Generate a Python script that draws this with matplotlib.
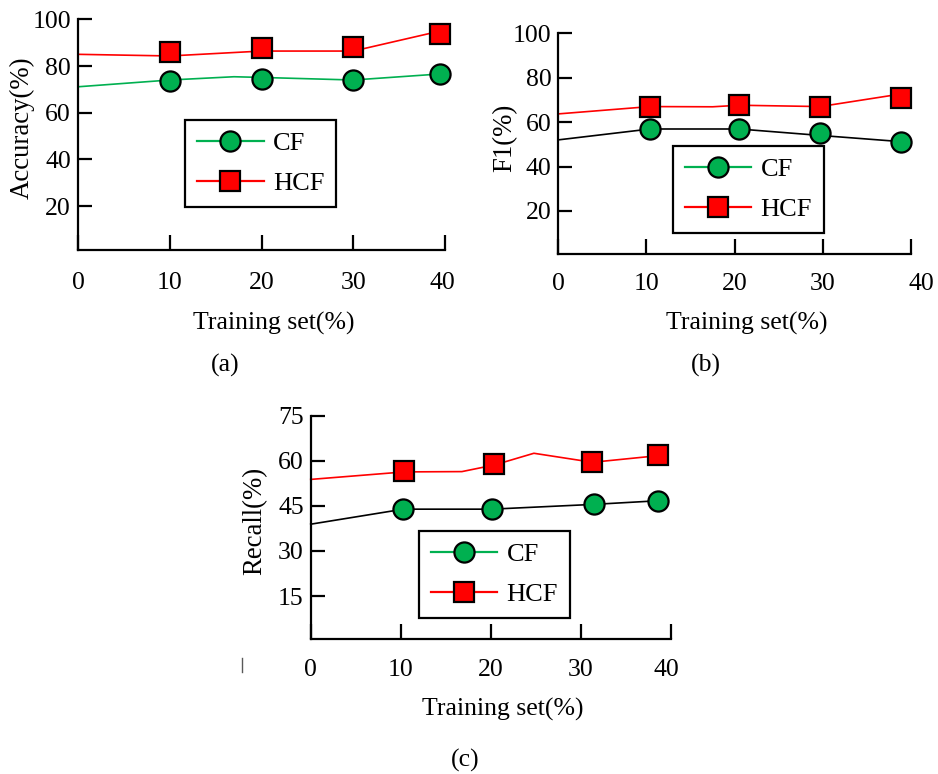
import matplotlib
matplotlib.use("Agg")
import matplotlib.pyplot as plt
from matplotlib.lines import Line2D
from matplotlib.transforms import ScaledTranslation

plt.rcParams['font.family'] = ['Liberation Serif', 'DejaVu Serif']

W, H = 938, 774
GREEN = '#00B050'
RED = '#FF0000'

x_ticks = [0, 10, 20, 30, 40]

# ---------- (a) Accuracy ----------
a_mark_x = [10, 20, 30, 39.5]
a_hcf_mark = [85.9, 87.7, 88.0, 93.6]
a_cf_mark = [73.7, 74.5, 74.0, 76.6]
a_hcf_line_x = [0, 10, 20, 30, 39.5]
a_hcf_line = [85.0, 84.3, 86.4, 86.4, 95.0]
a_cf_line_x = [0, 10, 17, 20, 30, 39.5]
a_cf_line = [71.1, 74.0, 75.4, 75.1, 74.0, 76.6]
a_yticks = [20, 40, 60, 80, 100]

# ---------- (b) F1 ----------
b_mark_x = [10.4, 20.5, 29.7, 38.9]
b_hcf_mark = [67.0, 67.7, 67.0, 71.0]
b_cf_mark = [56.9, 56.9, 55.2, 51.2]
b_hcf_line_x = [0, 10.4, 17.5, 20.5, 29.7, 38.9]
b_hcf_line = [63.7, 67.0, 66.9, 67.6, 67.0, 72.7]
b_cf_line_x = [0, 10.4, 20.5, 29.7, 38.9]
b_cf_line = [52.0, 56.9, 56.9, 54.0, 51.2]
b_yticks = [20, 40, 60, 80, 100]

# ---------- (c) Recall ----------
c_hcf_mark_x = [10.4, 20.4, 31.3, 38.6]
c_hcf_mark = [56.6, 58.8, 59.6, 61.8]
c_cf_mark_x = [10.3, 20.1, 31.5, 38.6]
c_cf_mark = [43.9, 43.9, 45.5, 46.7]
c_hcf_line_x = [0, 10.4, 16.8, 20.4, 24.8, 31.3, 38.6]
c_hcf_line = [53.8, 56.3, 56.4, 58.6, 62.5, 59.5, 61.7]
c_cf_line_x = [0, 10.3, 20.1, 31.5, 38.6]
c_cf_line = [38.9, 43.9, 43.9, 45.5, 46.7]
c_yticks = [15, 30, 45, 60, 75]

fig = plt.figure(figsize=(W / 100, H / 100), dpi=100)


def fx(x):
    return x / W


def fy(y):
    return 1 - y / H


def make_axes(l, r, t, b):
    return fig.add_axes([fx(l), fy(b), (r - l) / W, (b - t) / H])


def style(ax, ylim, yticks, xpad, last_dx):
    ax.set_xlim(0, 40)
    ax.set_ylim(*ylim)
    for s in ('top', 'right'):
        ax.spines[s].set_visible(False)
    for s in ('left', 'bottom'):
        ax.spines[s].set_linewidth(1.6)
        ax.spines[s].set_color('black')
    ax.set_xticks(x_ticks)
    ax.set_xticklabels([str(v) for v in x_ticks])
    ax.set_yticks(yticks)
    ax.set_yticklabels([str(v) for v in yticks])
    ax.tick_params(axis='x', direction='in', length=11, width=1.6,
                   labelsize=18.5, pad=xpad)
    ax.tick_params(axis='y', direction='in', length=10, width=1.6,
                   labelsize=18.5, pad=5)
    lab = ax.get_xticklabels()[-1]
    lab.set_transform(lab.get_transform() +
                      ScaledTranslation(last_dx / 100, 0, fig.dpi_scale_trans))


def draw(ax, hx, hl, hmx, hm, cx, cl, cmx, cm, cf_line_color):
    ax.plot(hx, hl, color=RED, lw=1.2, zorder=2, clip_on=False)
    ax.plot(cx, cl, color=cf_line_color, lw=1.2, zorder=2, clip_on=False)
    ax.plot(hmx, hm, ls='none', marker='s', ms=14.5, mfc=RED, mec='black',
            mew=1.6, zorder=3, clip_on=False)
    ax.plot(cmx, cm, ls='none', marker='o', ms=14.5, mfc=GREEN, mec='black',
            mew=1.6, zorder=3, clip_on=False)


def legend(ax, x, y):
    handles = [
        Line2D([], [], color=GREEN, lw=1.6, marker='o', ms=14.5, mfc=GREEN,
               mec='black', mew=1.6),
        Line2D([], [], color=RED, lw=1.6, marker='s', ms=14.5, mfc=RED,
               mec='black', mew=1.6),
    ]
    leg = ax.legend(handles, ['CF', 'HCF'], loc='upper left',
                    bbox_to_anchor=(fx(x), fy(y)),
                    bbox_transform=fig.transFigure, borderaxespad=0,
                    fontsize=19, handlelength=2.53, handletextpad=0.35,
                    borderpad=0.45, labelspacing=0.63, numpoints=1,
                    fancybox=False, framealpha=1)
    fr = leg.get_frame()
    fr.set_edgecolor('black')
    fr.set_linewidth(1.6)


# (a)
ax_a = make_axes(78, 445, 19.3, 250)
style(ax_a, (1.2, 100), a_yticks, 15.5, -3)
draw(ax_a, a_hcf_line_x, a_hcf_line, a_mark_x, a_hcf_mark,
     a_cf_line_x, a_cf_line, a_mark_x, a_cf_mark, GREEN)
legend(ax_a, 185, 120)

# (b)
ax_b = make_axes(558.3, 911, 33.3, 254)
style(ax_b, (0.6, 100), b_yticks, 13.5, 10.7)
draw(ax_b, b_hcf_line_x, b_hcf_line, b_mark_x, b_hcf_mark,
     b_cf_line_x, b_cf_line, b_mark_x, b_cf_mark, 'black')
legend(ax_b, 672.7, 146)

# (c)
ax_c = make_axes(310.7, 670.7, 415.7, 639.3)
style(ax_c, (0.6, 75), c_yticks, 14, -4)
draw(ax_c, c_hcf_line_x, c_hcf_line, c_hcf_mark_x, c_hcf_mark,
     c_cf_line_x, c_cf_line, c_cf_mark_x, c_cf_mark, 'black')
legend(ax_c, 418.7, 530.7)

# axis titles
fs_lab = 18.5
fs_ylab = 19.3
fig.text(fx(22.5), fy(128), 'Accuracy(%)', rotation=90, ha='center',
         va='center', fontsize=fs_ylab)
fig.text(fx(505), fy(137.5), 'F1(%)', rotation=90, ha='center',
         va='center', fontsize=fs_ylab)
fig.text(fx(255), fy(520.8), 'Recall(%)', rotation=90, ha='center',
         va='center', fontsize=fs_ylab)
fig.text(fx(274), fy(330), 'Training set(%)', ha='center', va='baseline',
         fontsize=fs_lab)
fig.text(fx(746.7), fy(329.3), 'Training set(%)', ha='center',
         va='baseline', fontsize=fs_lab)
fig.text(fx(502.5), fy(716), 'Training set(%)', ha='center',
         va='baseline', fontsize=fs_lab)

# panel captions
fig.text(fx(225), fy(365), '(a)', ha='center', va='center', fontsize=18.5)
fig.text(fx(705.7), fy(365), '(b)', ha='center', va='center', fontsize=18.5)
fig.text(fx(465), fy(760), '(c)', ha='center', va='center', fontsize=18.5)

# small stray mark left of panel (c)
fig.add_artist(Line2D([fx(242.3), fx(242.3)], [fy(658), fy(672)],
                      color='0.35', lw=1.0))

fig.savefig('out.png', dpi=100)
